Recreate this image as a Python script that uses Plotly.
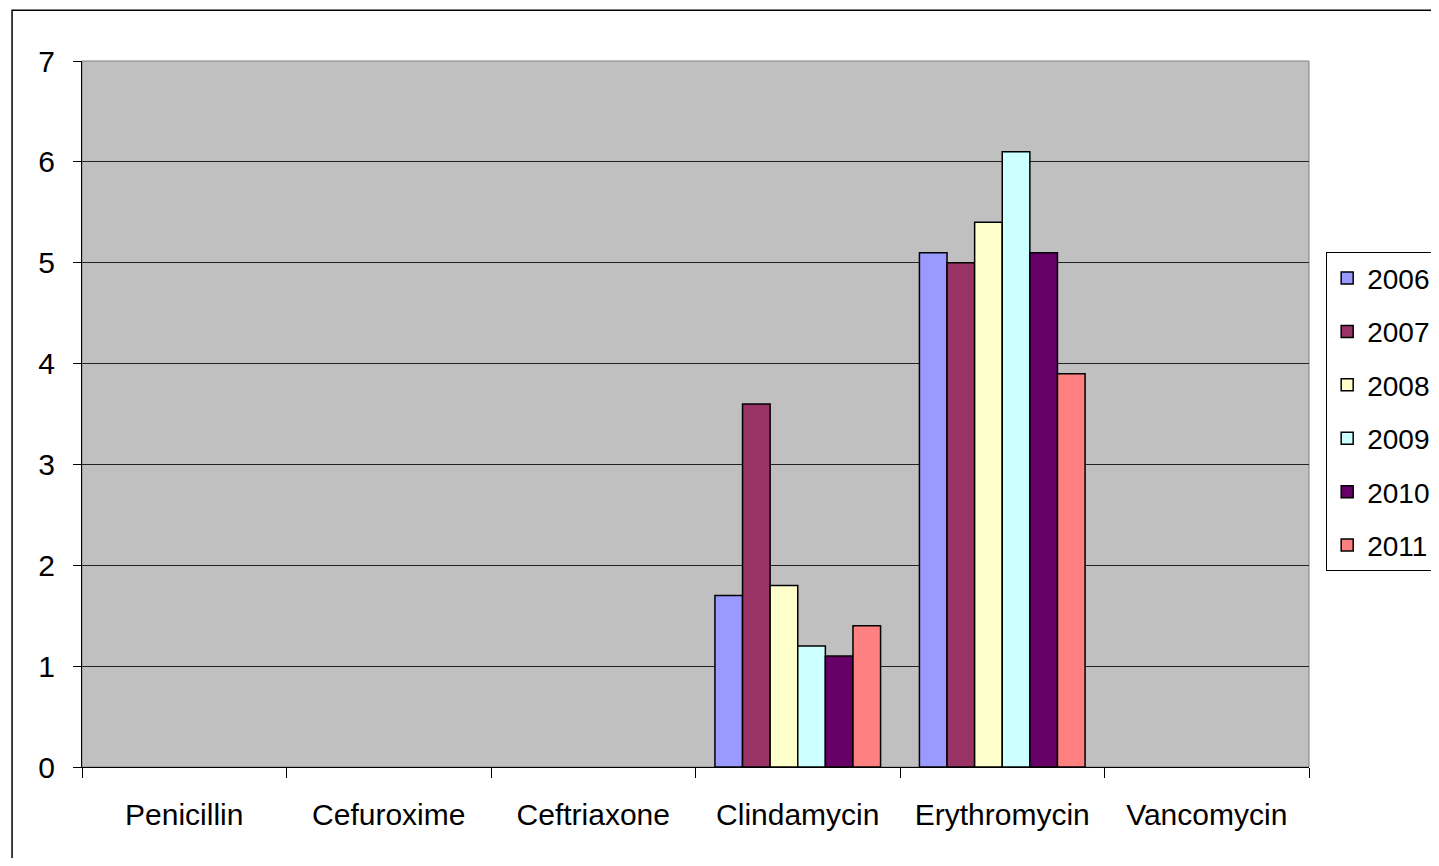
import plotly.graph_objects as go

drugs = ["Penicillin", "Cefuroxime", "Ceftriaxone", "Clindamycin", "Erythromycin", "Vancomycin"]
years = ["2006", "2007", "2008", "2009", "2010", "2011"]
# empty categories have no bar in the original chart
v2006 = [None, None, None, 1.7, 5.1, None]
v2007 = [None, None, None, 3.6, 5.0, None]
v2008 = [None, None, None, 1.8, 5.4, None]
v2009 = [None, None, None, 1.2, 6.1, None]
v2010 = [None, None, None, 1.1, 5.1, None]
v2011 = [None, None, None, 1.4, 3.9, None]
series = [v2006, v2007, v2008, v2009, v2010, v2011]
colors = ["#9999FF", "#993366", "#FFFFCC", "#CCFFFF", "#660066", "#FF8080"]

FONT = "Liberation Sans, Arial, sans-serif"

fig = go.Figure()
for yr, vals, col in zip(years, series, colors):
    fig.add_trace(go.Bar(
        x=drugs, y=vals, name=yr, legendgroup=yr,
        marker=dict(color=col, line=dict(color="black", width=1.5)),
    ))

# page body has an 8px margin, so keep the figure inside the window
fig.update_layout(
    width=1423, height=850,
    margin=dict(l=74, r=122, t=53, b=91, autoexpand=False),
    paper_bgcolor="white", plot_bgcolor="#C0C0C0",
    font=dict(family=FONT, size=30, color="black"),
    barmode="group", bargap=0.19, bargroupgap=0,
    showlegend=True,
    legend=dict(
        x=1.014, y=0.729, xanchor="left", yanchor="top",
        bordercolor="black", borderwidth=1, bgcolor="white",
        tracegroupgap=14, traceorder="grouped",
        font=dict(size=28),
    ),
    xaxis=dict(range=[-0.5, 5.5]),
)
fig.update_xaxes(
    showline=True, linecolor="black", linewidth=1,
    ticks="outside", tickson="boundaries", ticklen=10, tickcolor="black",
    ticklabelstandoff=21, showgrid=False,
)
fig.update_yaxes(
    range=[0, 7], dtick=1, showline=True, linecolor="black", linewidth=1,
    ticks="outside", ticklen=8, tickcolor="black", ticklabelstandoff=12,
    showgrid=True, gridcolor="#222222", gridwidth=1, zeroline=False,
)

# plot area border and outer chart frame
fig.add_shape(type="rect", xref="paper", yref="paper", x0=0, x1=1, y0=0, y1=1,
              line=dict(color="#808080", width=1), layer="below")
fig.add_shape(type="rect", xref="paper", yref="paper", x0=-0.057, x1=1.2, y0=-0.2, y1=1.072,
              line=dict(color="black", width=1.5))

fig.write_html("out.html")
